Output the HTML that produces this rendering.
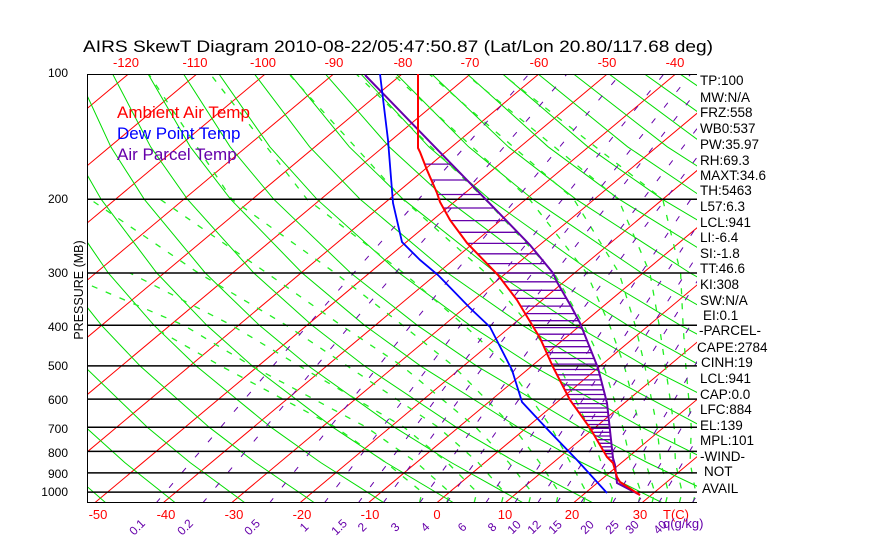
<!DOCTYPE html>
<html><head><meta charset="utf-8"><style>
html,body{margin:0;padding:0;background:#fff;}
svg{display:block;font-family:"Liberation Sans",sans-serif;}
</style></head><body>
<svg width="870" height="560" viewBox="0 0 870 560" xmlns="http://www.w3.org/2000/svg">
<defs><clipPath id="c"><rect x="87" y="74" width="610" height="429"/></clipPath></defs>
<rect width="870" height="560" fill="#fff"/>
<g clip-path="url(#c)" fill="none">
<g stroke="#f00" stroke-width="1">
<line x1="-384.3" y1="503" x2="128.4" y2="74"/>
<line x1="-315.9" y1="503" x2="196.8" y2="74"/>
<line x1="-247.5" y1="503" x2="265.2" y2="74"/>
<line x1="-179.1" y1="503" x2="333.6" y2="74"/>
<line x1="-110.7" y1="503" x2="402" y2="74"/>
<line x1="-42.3" y1="503" x2="470.4" y2="74"/>
<line x1="26.1" y1="503" x2="538.8" y2="74"/>
<line x1="94.5" y1="503" x2="607.2" y2="74"/>
<line x1="162.9" y1="503" x2="675.6" y2="74"/>
<line x1="231.3" y1="503" x2="744" y2="74"/>
<line x1="299.7" y1="503" x2="812.4" y2="74"/>
<line x1="368.1" y1="503" x2="880.8" y2="74"/>
<line x1="436.5" y1="503" x2="949.2" y2="74"/>
<line x1="504.9" y1="503" x2="1017.6" y2="74"/>
<line x1="573.3" y1="503" x2="1086" y2="74"/>
<line x1="641.7" y1="503" x2="1154.4" y2="74"/>
</g>
<g stroke="#0d0" stroke-width="1">
<polyline points="-135.7,73 -127.7,146.8 -114.8,199.2 -85.6,273 -56.4,325.3 -28.3,365.9 23.8,427.2 59.4,462.5 106,503"/>
<polyline points="-100.3,73 -88,146.8 -71.6,199.2 -37.1,273 -3.8,325.3 27.8,365.9 85.6,427.2 124.7,462.5 175.6,503"/>
<polyline points="-64.9,73 -48.2,146.8 -28.5,199.2 11.4,273 48.9,325.3 83.9,365.9 147.3,427.2 190,462.5 245.2,503"/>
<polyline points="-29.5,73 -8.5,146.8 14.7,199.2 59.8,273 101.5,325.3 140,365.9 209.1,427.2 255.3,462.5 314.8,503"/>
<polyline points="5.9,73 31.3,146.8 57.9,199.2 108.3,273 154.1,325.3 196.1,365.9 270.9,427.2 320.6,462.5 384.4,503"/>
<polyline points="41.3,73 71.1,146.8 101.1,199.2 156.8,273 206.8,325.3 252.2,365.9 332.7,427.2 385.9,462.5 454,503"/>
<polyline points="76.7,73 110.8,146.8 144.2,199.2 205.3,273 259.4,325.3 308.3,365.9 394.4,427.2 451.2,462.5 523.5,503"/>
<polyline points="112.1,73 150.6,146.8 187.4,199.2 253.8,273 312,325.3 364.4,365.9 456.2,427.2 516.5,462.5 593.1,503"/>
<polyline points="147.5,73 190.3,146.8 230.6,199.2 302.2,273 364.6,325.3 420.5,365.9 518,427.2 581.8,462.5 662.7,503"/>
<polyline points="182.9,73 230.1,146.8 273.7,199.2 350.7,273 417.3,325.3 476.6,365.9 579.8,427.2 647.1,462.5 732.3,503"/>
<polyline points="218.3,73 269.8,146.8 316.9,199.2 399.2,273 469.9,325.3 532.7,365.9 641.5,427.2 712.4,462.5 801.9,503"/>
<polyline points="253.7,73 309.6,146.8 360.1,199.2 447.7,273 522.5,325.3 588.8,365.9 703.3,427.2 777.7,462.5"/>
<polyline points="289.1,73 349.3,146.8 403.2,199.2 496.2,273 575.1,325.3 644.9,365.9 765.1,427.2"/>
<polyline points="324.5,73 389.1,146.8 446.4,199.2 544.6,273 627.8,325.3 701,365.9 826.9,427.2"/>
<polyline points="359.9,73 428.8,146.8 489.6,199.2 593.1,273 680.4,325.3 757.1,365.9"/>
<polyline points="395.3,73 468.6,146.8 532.7,199.2 641.6,273 733,325.3"/>
<polyline points="430.7,73 508.3,146.8 575.9,199.2 690.1,273 785.6,325.3"/>
<polyline points="466.1,73 548.1,146.8 619.1,199.2 738.6,273"/>
<polyline points="501.5,73 587.8,146.8 662.2,199.2 787,273"/>
<polyline points="536.9,73 627.6,146.8 705.4,199.2"/>
<polyline points="572.3,73 667.3,146.8 748.6,199.2"/>
<polyline points="607.7,73 707.1,146.8"/>
<polyline points="643.1,73 746.8,146.8"/>
<polyline points="678.5,73 786.6,146.8"/>
</g>
<g stroke="#2e2" stroke-width="1.3" stroke-dasharray="6,9">
<polyline points="693,503 695.7,492.1 690.1,462.5 691.3,427.2 685.8,365.9 683.1,325.3 680.6,273 662.7,199.2 500.7,73"/>
<polyline points="679.3,503 682.1,492.1 675.4,462.5 674.2,427.2 665.3,365.9 659.2,325.3 649.9,273 618.3,199.2 464.4,73"/>
<polyline points="665.6,503 668.4,492.1 660.7,462.5 657.1,427.2 644.8,365.9 635.2,325.3 619.1,273 573.8,199.2 428,73"/>
<polyline points="652,503 654.7,492.1 645.7,462.5 640,427.2 624.3,365.9 609.6,325.3 586.6,273 529.4,199.2 391.6,73"/>
<polyline points="638.3,503 641,492.1 630.6,462.5 622.9,427.2 603.7,365.9 583.9,325.3 554.1,273 484.9,199.2 355.2,73"/>
<polyline points="610.9,503 613.7,492.1 601.2,462.5 588.7,427.2 559.3,365.9 529.2,325.3 485.7,273 402.8,199.2 288,73"/>
<polyline points="583.6,503 586.3,492.1 570.4,462.5 551,427.2 508,365.9 464.2,325.3 403.6,273 307,199.2 209.5,73"/>
<polyline points="556.2,503 558.9,492.1 539.6,462.5 513.4,427.2 453.2,365.9 402.7,325.3 335.2,273 231.8,199.2 148,73"/>
<polyline points="528.8,503 531.6,492.1 508.8,462.5 475.8,427.2 401.9,365.9 341.1,325.3 266.8,273 160,199.2"/>
<polyline points="501.5,503 504.2,492.1 478.1,462.5 438.2,427.2 347.2,365.9 286.4,325.3 198.4,273 90,199.2"/>
<polyline points="474.1,503 476.9,492.1 447.3,462.5 404,427.2 299.3,365.9 231.7,325.3 130,273"/>
<polyline points="446.8,503 449.5,492.1 416.5,462.5 366.4,427.2 251.5,365.9 183.8,325.3 61.6,273"/>
<polyline points="419.4,503 422.1,492.1 385.7,462.5 335.6,427.2 220.7,365.9 149.6,325.3"/>
</g>
<g stroke="#60a" stroke-width="1" stroke-dasharray="6,14">
<polyline points="156.1,503 307.6,325.3 529.9,73"/>
<polyline points="202.7,503 350.2,325.3 567.8,73"/>
<polyline points="269.5,503 410.9,325.3 621.3,73"/>
<polyline points="324.3,503 460.5,325.3 664.7,73"/>
<polyline points="358.2,503 491.1,325.3 691.5,73"/>
<polyline points="383.1,503 513.6,325.3 711.1,73"/>
<polyline points="419.6,503 546.4,325.3 739.6,73"/>
<polyline points="446.5,503 570.6,325.3 760.5,73"/>
<polyline points="485.7,503 605.8,325.3 776,73"/>
<polyline points="514.7,503 631.7,325.3 798,73"/>
<polyline points="537.7,503 652.2,325.3 815,73"/>
<polyline points="556.9,503 669.3,325.3 829,73"/>
<polyline points="580.8,503 690.6,325.3"/>
<polyline points="612.6,503 718.8,325.3"/>
<polyline points="637.8,503 741.2,325.3"/>
<polyline points="658.6,503 765,325.3"/>
<polyline points="692.2,503 800,325.3"/>
</g>
<g stroke="#000" stroke-width="1.5">
<line x1="87" x2="697" y1="199.2" y2="199.2"/>
<line x1="87" x2="697" y1="273" y2="273"/>
<line x1="87" x2="697" y1="325.3" y2="325.3"/>
<line x1="87" x2="697" y1="365.9" y2="365.9"/>
<line x1="87" x2="697" y1="399.1" y2="399.1"/>
<line x1="87" x2="697" y1="427.2" y2="427.2"/>
<line x1="87" x2="697" y1="451.4" y2="451.4"/>
<line x1="87" x2="697" y1="472.9" y2="472.9"/>
<line x1="87" x2="697" y1="492.1" y2="492.1"/>
</g>
<g stroke="#000" stroke-width="2">
<line x1="87" x2="697" y1="74" y2="74"/>
<line x1="87" x2="697" y1="503" y2="503"/>
<line x1="87" x2="87" y1="74" y2="503"/>
</g>
<path stroke="#60a" stroke-width="1.3" d="M424.7,164.1H451.5M431.3,180H466.9M437.5,194.5H481M443.3,208H494.1M450.4,220.6H506.3M459.1,232.3H517.7M467.4,243.4H528.5M477.5,253.8H537.2M487,263.6H545.3M496.1,273H553M503.2,281.8H556.9M509.6,290.3H561.8M515.8,298.4H566.5M520.7,306.1H570.9M525.2,313.6H575M529.5,320.7H578.8M533.7,327.6H581.8M537.7,334.2H584.5M541.2,340.6H587M543.9,346.7H589.5M546.6,352.7H591.9M549.2,358.5H594.2M551.7,364.1H596.4M554.3,369.5H598.4M557,374.8H599.8M559.6,379.9H601.1M562.2,384.9H602.4M564.7,389.8H603.6M567.2,394.5H604.8M569.5,399.1H606M572.6,403.6H607.1M575.7,408H607.5M578.8,412.3H608M581.8,416.5H608.5M584.6,420.5H608.9M587.5,424.5H609.3M590.2,428.4H609.8M592.5,432.3H610.2M594.7,436H610.6M596.9,439.7H611M599,443.3H611.4M601,446.8H611.8M603.1,450.3H612.2M605.1,453.7H612.6M607.1,457.1H612.9M610.3,460.3H613.7M613.2,463.6H614.7"/>
<polyline stroke="#60a" stroke-width="2" points="365,75 530,245 553,273 557,282 572,308 580,323 598,368 607,403 613,458 615,465 617,483 640,495"/>
<polyline stroke="#f00" stroke-width="2" points="418,74 418,148 420,152 427,170 437,193 440,202 450,220 467,243 498,275 517,300 523,310 540,338 553,367 570,400 590,428 607,457 613,463 617,477 620,482 640,495"/>
<polyline stroke="#00f" stroke-width="1.8" points="380,74 388,140 393,203 402,242 420,260 438,275 470,308 490,327 512,370 522,402 550,432 577,460 607,493"/>
</g>
<text x="83" y="52" font-size="16.5" fill="#000" textLength="630" lengthAdjust="spacingAndGlyphs">AIRS SkewT Diagram 2010-08-22/05:47:50.87 (Lat/Lon 20.80/117.68 deg)</text>
<g fill="#f00" font-size="13" text-anchor="middle">
<text x="126" y="67">-120</text><text x="195" y="67">-110</text><text x="263" y="67">-100</text><text x="334" y="67">-90</text><text x="403" y="67">-80</text><text x="470" y="67">-70</text><text x="539" y="67">-60</text><text x="607" y="67">-50</text><text x="675" y="67">-40</text>
<text x="98" y="519">-50</text><text x="166" y="519">-40</text><text x="234" y="519">-30</text><text x="302" y="519">-20</text><text x="370" y="519">-10</text><text x="437" y="519">0</text><text x="505" y="519">10</text><text x="572" y="519">20</text><text x="640" y="519">30</text><text x="676" y="519">T(C)</text>
</g>
<g fill="#000" font-size="12" text-anchor="end">
<text x="68" y="77">100</text><text x="68" y="203">200</text><text x="68" y="277">300</text><text x="68" y="331">400</text><text x="68" y="370">500</text><text x="68" y="404">600</text><text x="68" y="433">700</text><text x="68" y="457">800</text><text x="68" y="478">900</text><text x="68" y="496">1000</text>
</g>
<text transform="translate(83,290) rotate(-90)" font-size="12.5" text-anchor="middle" fill="#000">PRESSURE (MB)</text>
<g font-size="17">
<text x="117" y="118" fill="#f00">Ambient Air Temp</text>
<text x="117" y="139" fill="#00f">Dew Point Temp</text>
<text x="117" y="160" fill="#60a">Air Parcel Temp</text>
</g>
<g fill="#60a" font-size="12" text-anchor="middle">
<text transform="translate(140,530) rotate(-45)">0.1</text>
<text transform="translate(188,530) rotate(-45)">0.2</text>
<text transform="translate(255,530) rotate(-45)">0.5</text>
<text transform="translate(307,530) rotate(-45)">1</text>
<text transform="translate(342,530) rotate(-45)">1.5</text>
<text transform="translate(365,530) rotate(-45)">2</text>
<text transform="translate(398,530) rotate(-45)">3</text>
<text transform="translate(428,530) rotate(-45)">4</text>
<text transform="translate(465,530) rotate(-45)">6</text>
<text transform="translate(495,530) rotate(-45)">8</text>
<text transform="translate(517,530) rotate(-45)">10</text>
<text transform="translate(537,530) rotate(-45)">12</text>
<text transform="translate(558,530) rotate(-45)">15</text>
<text transform="translate(590,530) rotate(-45)">20</text>
<text transform="translate(615,530) rotate(-45)">25</text>
<text transform="translate(635,530) rotate(-45)">30</text>
<text transform="translate(663,530) rotate(-45)">40</text>
</g>
<text x="663" y="528" fill="#60a" font-size="13">q(g/kg)</text>
<g fill="#000" font-size="13.5">
<text x="700" y="85">TP:100</text>
<text x="700" y="102">MW:N/A</text>
<text x="700" y="117">FRZ:558</text>
<text x="700" y="133">WB0:537</text>
<text x="700" y="149">PW:35.97</text>
<text x="700" y="165">RH:69.3</text>
<text x="700" y="180">MAXT:34.6</text>
<text x="700" y="195">TH:5463</text>
<text x="700" y="211">L57:6.3</text>
<text x="700" y="227">LCL:941</text>
<text x="700" y="242">LI:-6.4</text>
<text x="700" y="258">SI:-1.8</text>
<text x="700" y="273">TT:46.6</text>
<text x="700" y="289">KI:308</text>
<text x="700" y="305">SW:N/A</text>
<text x="703" y="320">EI:0.1</text>
<text x="699" y="335">-PARCEL-</text>
<text x="697" y="352">CAPE:2784</text>
<text x="701" y="367">CINH:19</text>
<text x="700" y="383">LCL:941</text>
<text x="700" y="399">CAP:0.0</text>
<text x="700" y="414">LFC:884</text>
<text x="700" y="430">EL:139</text>
<text x="700" y="445">MPL:101</text>
<text x="700" y="461">-WIND-</text>
<text x="704" y="476">NOT</text>
<text x="702" y="493">AVAIL</text>
</g>
</svg>
</body></html>
